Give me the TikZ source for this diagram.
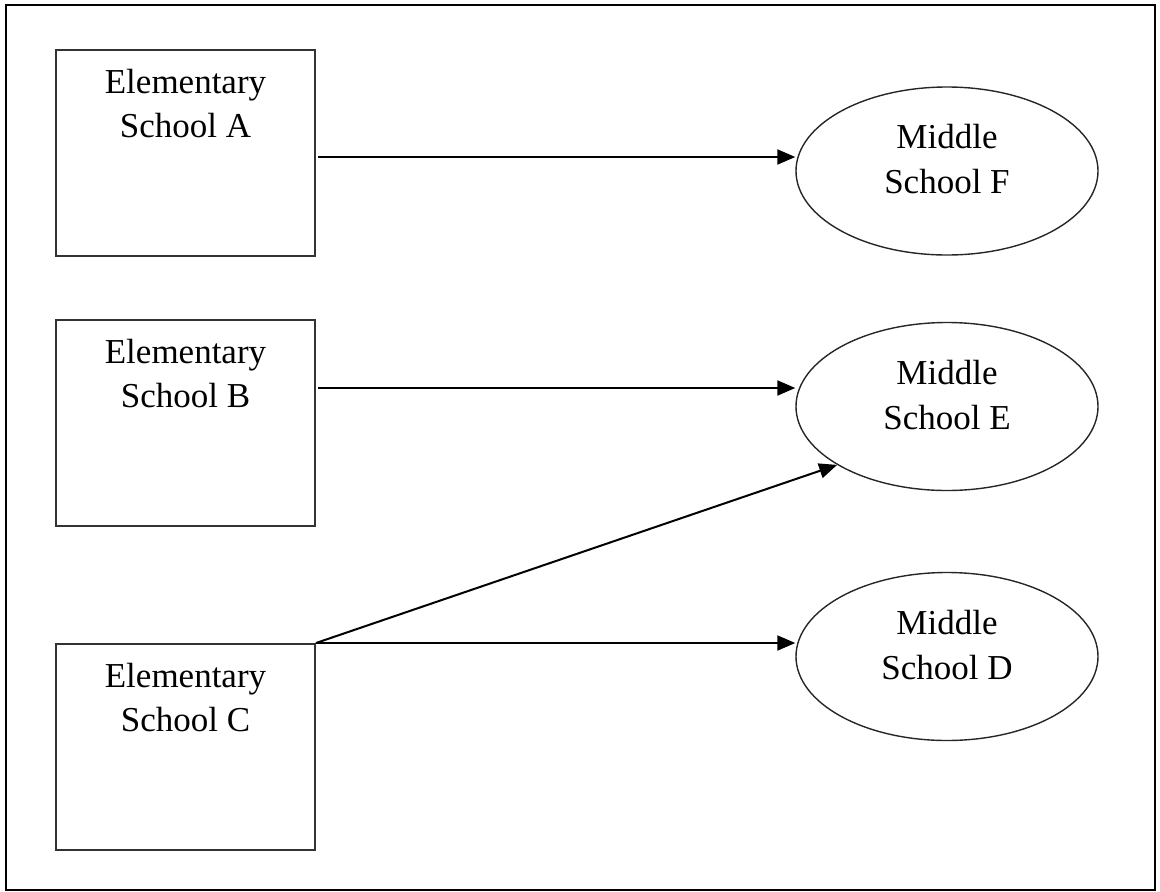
\documentclass[tikz,border=0pt]{standalone}
\usepackage{fontspec}
\setmainfont{Liberation Serif}
\usetikzlibrary{arrows.meta,positioning,shapes.geometric}

\begin{document}
\begin{tikzpicture}[x=1pt,y=-1pt,
  elembox/.style={draw=black!80,line width=2pt,minimum width=259pt,minimum height=206pt,inner sep=0pt},
  elemtext/.style={inner sep=0pt,align=center,font=\fontsize{35}{44}\selectfont},
  midschool/.style={draw=black!85,ellipse,line width=1.4pt,minimum width=302pt,minimum height=168pt,inner sep=0pt,text depth=24pt,align=center,font=\fontsize{35}{45}\selectfont},
  link/.style={line width=2pt,-{Triangle[length=18pt,width=15pt]}}]
\useasboundingbox (0,0) rectangle (1160,892);
\draw[line width=2.5pt] (6,5) rectangle (1155,890);

\node[elembox] (ea) at (185.5,153) {};
\node[elembox] (eb) at (185.5,423) {};
\node[elembox] (ec) at (185.5,747) {};
\node[elemtext, below=20pt of ea.north] (ta) {Elementary\\School A};
\node[elemtext, below=20pt of eb.north] (tb) {Elementary\\School B};
\node[elemtext, below=20pt of ec.north] (tc) {Elementary\\School C};

\node[midschool] (mf) at (947,171) {Middle\\School F};
\node[midschool] (me) at (947,406.5) {Middle\\School E};
\node[midschool] (md) at (947,656.5) {Middle\\School D};

\draw[link] ([xshift=2pt,yshift=-4pt]ea.east) -- ([yshift=-4pt]ea.east -| mf.west);
\draw[link] ([xshift=2pt,yshift=35pt]eb.east) -- ([yshift=35pt]eb.east -| me.west);
\draw[link] (ec.north east) -- (me.208);
\draw[link] (ec.north east) -- (ec.north east -| md.west);

\end{tikzpicture}
\end{document}
